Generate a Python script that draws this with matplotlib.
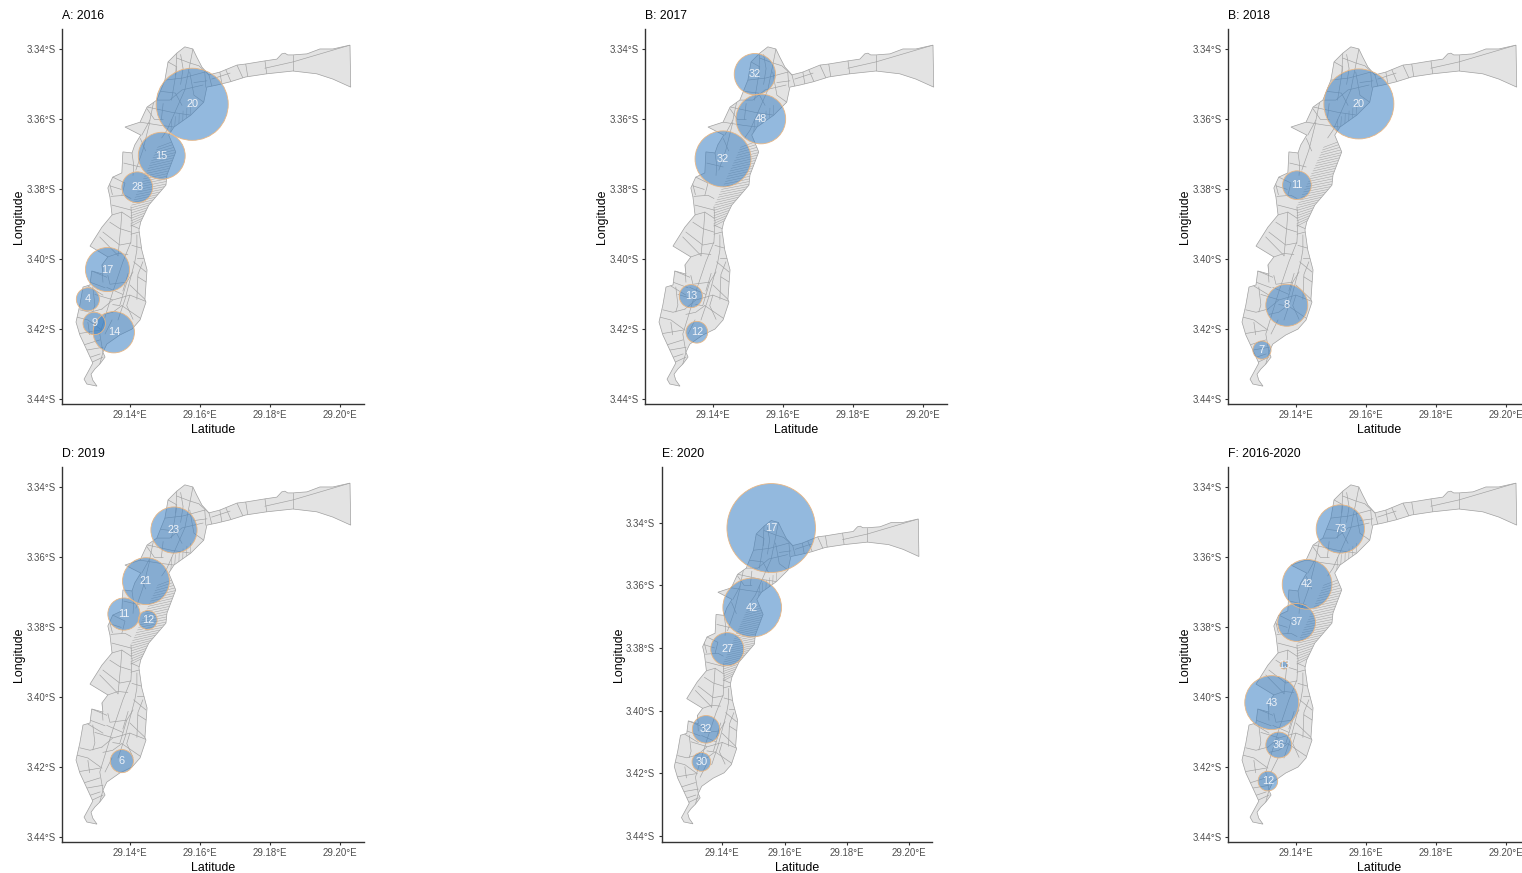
import matplotlib
matplotlib.use("Agg")
import matplotlib.pyplot as plt
from matplotlib.patches import Polygon, Circle
from matplotlib.ticker import FixedLocator, FixedFormatter

plt.rcParams['font.family'] = ['Liberation Sans', 'DejaVu Sans']

# ---------- map data (degrees east, degrees south) ----------
outline_lon = [29.1557,29.158,29.1591,29.1606,29.1626,29.1657,29.1706,29.1731,29.1786,29.182,29.1834,29.1843,29.1851,29.1866,
 29.1906,29.1943,29.198,29.2029,29.2031,29.198,29.1934,29.1866,29.1791,29.1731,29.1686,29.1649,29.162,29.1611,29.1574,29.1526,
 29.1511,29.1531,29.1506,29.1503,29.1454,29.1431,29.1426,29.1434,29.1449,29.1443,29.1446,29.1429,29.1406,29.1371,29.1334,29.1323,
 29.1329,29.1314,29.13,29.1289,29.1294,29.1306,29.1277,29.1269,29.128,29.1294,29.1277,29.1257,29.1246,29.1257,29.1266,29.1286,
 29.1291,29.1323,29.132,29.1337,29.1286,29.132,29.1349,29.1343,29.1337,29.1351,29.1377,29.138,29.1406,29.1414,29.1431,29.1386,
 29.1429,29.1449,29.1477,29.15,29.1509,29.1534]
outline_lat = [3.3393,3.3399,3.3422,3.3451,3.3473,3.3465,3.3445,3.3442,3.3433,3.3428,3.3413,3.3411,3.3416,3.3416,
 3.3413,3.3399,3.3399,3.3388,3.3508,3.3485,3.347,3.3462,3.347,3.3479,3.3493,3.3502,3.3508,3.3551,3.3588,3.3622,
 3.3645,3.3693,3.3759,3.3788,3.3845,3.3893,3.3916,3.3973,3.403,3.4114,3.4122,3.4173,3.4199,3.4216,3.4242,3.4265,
 3.4279,3.4299,3.4313,3.4328,3.4345,3.4362,3.4356,3.4342,3.4322,3.4296,3.4259,3.4216,3.4179,3.413,3.4079,3.4073,
 3.4033,3.4042,3.4016,3.3993,3.3962,3.3908,3.3873,3.3822,3.3796,3.3765,3.3753,3.3693,3.3696,3.3673,3.3645,3.3622,
 3.3608,3.3565,3.3545,3.3488,3.3436,3.3411]

parcel_lines = [
 [(29.158,3.340),(29.1557,3.3516),(29.1506,3.3631),(29.1491,3.3653)],
 [(29.1534,3.3425),(29.1571,3.3439),(29.1597,3.3447),(29.1626,3.3473)],
 [(29.15,3.3488),(29.1551,3.3482),(29.1614,3.3465)],
 [(29.1477,3.3545),(29.1514,3.3545),(29.1549,3.3516),(29.1609,3.3502)],
 [(29.1534,3.3411),(29.1531,3.3473),(29.1519,3.3545)],
 [(29.1614,3.3465),(29.1617,3.3508)],
 [(29.1571,3.3465),(29.1583,3.3531),(29.1611,3.3551)],
 [(29.1451,3.3565),(29.152,3.358),(29.1574,3.3588)],
 [(29.1429,3.3608),(29.1486,3.3617),(29.1526,3.3622)],
 [(29.1469,3.3545),(29.1457,3.3603)],
 [(29.1457,3.3603),(29.1434,3.3645)],
 [(29.1626,3.3473),(29.1634,3.3505)],
 [(29.1657,3.3465),(29.1663,3.3499)],
 [(29.1674,3.3458),(29.1689,3.3493)],
 [(29.1706,3.3445),(29.1723,3.3482)],
 [(29.1731,3.3442),(29.1737,3.3479)],
 [(29.1786,3.3433),(29.1791,3.347)],
 [(29.1866,3.3416),(29.1866,3.3462)],
 [(29.1786,3.3454),(29.1866,3.3436),(29.2029,3.3388)],
 [(29.1634,3.3485),(29.1686,3.3468)],
 [(29.1403,3.385),(29.1406,3.3893),(29.1403,3.395),(29.138,3.4007),(29.1351,3.4093),(29.1314,3.4213),(29.1323,3.4265),(29.1314,3.4299)],
 [(29.142,3.393),(29.142,3.3973),(29.1414,3.4007),(29.1386,3.4114),(29.1366,3.4173)],
 [(29.1403,3.3902),(29.1426,3.3912)],
 [(29.1383,3.3725),(29.1429,3.3736)],
 [(29.1406,3.3696),(29.1411,3.3731),(29.1409,3.376)],
 [(29.1457,3.3608),(29.1437,3.3688),(29.1417,3.3745)],
 [(29.1351,3.3765),(29.1386,3.3782),(29.1377,3.3817)],
 [(29.1346,3.382),(29.1386,3.3817),(29.1403,3.3826)],
 [(29.1349,3.3845),(29.1403,3.3859)],
 [(29.1349,3.3873),(29.1377,3.3865),(29.1403,3.3882)],
 [(29.1377,3.3865),(29.1374,3.3908),(29.1369,3.3959),(29.1366,3.399)],
 [(29.1343,3.3894),(29.1371,3.3912),(29.1403,3.3922)],
 [(29.1323,3.3922),(29.1371,3.3959),(29.1403,3.3953)],
 [(29.1314,3.3936),(29.1366,3.3989)],
 [(29.1337,3.3993),(29.1366,3.3983),(29.1394,3.3986)],
 [(29.1403,3.3928),(29.1426,3.3922)],
 [(29.1406,3.396),(29.1434,3.3968)],
 [(29.1411,3.4007),(29.1446,3.4036)],
 [(29.1437,3.4007),(29.1423,3.4043),(29.142,3.4114)],
 [(29.14,3.4073),(29.1443,3.4114)],
 [(29.1291,3.4033),(29.1334,3.4051)],
 [(29.1286,3.4065),(29.1329,3.4081)],
 [(29.128,3.4076),(29.1323,3.4102)],
 [(29.132,3.4016),(29.1323,3.4065)],
 [(29.1294,3.4079),(29.13,3.413),(29.1294,3.415)],
 [(29.1257,3.4144),(29.1286,3.4151),(29.132,3.4142)],
 [(29.1249,3.4165),(29.128,3.4173),(29.132,3.4202)],
 [(29.1249,3.4213),(29.1314,3.4202)],
 [(29.1266,3.4245),(29.1314,3.423)],
 [(29.1271,3.426),(29.1323,3.4251)],
 [(29.1291,3.4294),(29.1323,3.4279)],
 [(29.132,3.4142),(29.1351,3.4116),(29.14,3.4102),(29.1446,3.412)],
 [(29.1329,3.4213),(29.1349,3.4173)],
 [(29.1377,3.4132),(29.1434,3.4171)],
 [(29.1323,3.4157),(29.1351,3.4151),(29.1377,3.4132)],
 [(29.1351,3.4129),(29.1371,3.4132),(29.1391,3.4065),(29.1409,3.4036)],
 [(29.14,3.4102),(29.1391,3.4132),(29.1409,3.4171)],
 [(29.1334,3.408),(29.138,3.41)],
 [(29.1337,3.4046),(29.1343,3.4071),(29.1391,3.4065)],
 [(29.1509,3.3436),(29.1534,3.345),(29.1531,3.3473)],
 [(29.1488,3.3520),(29.1530,3.3525),(29.1549,3.3560)],
 [(29.1545,3.3415),(29.1552,3.3455),(29.1545,3.3500)],
 [(29.1583,3.3495),(29.1620,3.3490)],
 [(29.1449,3.3570),(29.1470,3.3600),(29.1495,3.3600)],
 [(29.1495,3.3555),(29.1490,3.3600)],
 [(29.1445,3.3690),(29.1430,3.3655)],
 [(29.1343,3.3790),(29.1375,3.3800)],
 [(29.1300,3.4100),(29.1350,3.4115)],
 [(29.1340,3.3775),(29.1350,3.3815)],
 [(29.1420,3.3995),(29.1445,3.3995)],
 [(29.1423,3.4050),(29.1447,3.4065)],
 [(29.1395,3.4040),(29.1380,3.4090)],
 [(29.1280,3.4180),(29.1285,3.4215)],
 [(29.1285,3.4280),(29.1315,3.4270)],
]

hatch_road_lon = [29.1479,29.1476,29.1472,29.1469,29.1466,29.1462,29.1459,29.1456,29.1452,29.1449,29.1445,29.1442,29.1439,29.1436,29.1432,29.1429,
 29.1425,29.1422,29.1418,29.1415,29.1412,29.1408,29.1405,29.1404,29.1403,29.1403,29.1403,29.1403,29.1403,29.1403,29.1403]
hatch_road_lat = [3.368,3.36875,3.3695,3.37025,3.371,3.37175,3.3725,3.37325,3.374,3.37475,3.3755,3.37625,3.377,3.37775,3.3785,3.37925,
 3.380,3.38075,3.3815,3.38225,3.383,3.38375,3.3845,3.38525,3.386,3.38675,3.3875,3.38825,3.389,3.38975,3.3905]
hatch_coast_lon = [29.1519,29.1522,29.1526,29.1528,29.153,29.1527,29.1524,29.1521,29.1519,29.1516,29.1513,29.151,29.1507,29.1506,29.1505,29.1504,
 29.1503,29.1498,29.1493,29.1487,29.148,29.1473,29.1467,29.1460,29.1454,29.1450,29.1447,29.1443,29.144,29.1436,29.1432]
hatch_coast_lat = [3.3665,3.36725,3.368,3.36875,3.3695,3.37025,3.371,3.37175,3.3725,3.37325,3.374,3.37475,3.3755,3.37625,3.377,3.37775,
 3.3785,3.37925,3.380,3.38075,3.3815,3.38225,3.383,3.38375,3.3845,3.38525,3.386,3.38675,3.3875,3.38825,3.389]

north_hatch_a_lon = [29.1520,29.1530,29.1541,29.1552,29.1563,29.1574]
north_hatch_a_lat = [3.3600,3.3592,3.3584,3.3576,3.3568,3.3560]
north_hatch_b_lon = [29.1517,29.1528,29.1540,29.1551,29.1562,29.1573]
north_hatch_b_lat = [3.3635,3.3625,3.3615,3.3605,3.3595,3.3585]

# ---------- clusters per panel ----------
titles = ['A: 2016', 'B: 2017', 'B: 2018', 'D: 2019', 'E: 2020', 'F: 2016-2020']

a_lon = [29.1578,29.1491,29.1421,29.1336,29.128,29.1298,29.1354]
a_lat = [3.3557,3.3704,3.3794,3.4029,3.4114,3.4183,3.4208]
a_rad = [.0103,.0067,.0044,.0063,.0033,.0032,.0059]
a_lab = [20,15,28,17,4,9,14]

b_lon = [29.152,29.1537,29.1429,29.1337,29.1354]
b_lat = [3.3471,3.3599,3.3713,3.4105,3.4208]
b_rad = [.0059,.0071,.008,.0033,.0031]
b_lab = [32,48,32,13,12]

c_lon = [29.158,29.1403,29.1374,29.1303]
c_lat = [3.3556,3.3788,3.4131,3.4259]
c_rad = [.01,.0041,.006,.0026]
c_lab = [20,11,8,7]

d_lon = [29.1526,29.1446,29.1383,29.1451,29.1377]
d_lat = [3.3522,3.3668,3.3762,3.3779,3.4182]
d_rad = [.0066,.0067,.0046,.0027,.0033]
d_lab = [23,21,11,12,6]

e_lon = [29.1557,29.1496,29.1416,29.1348,29.1333]
e_lat = [3.3417,3.3671,3.3804,3.406,3.4164]
e_rad = [.0142,.0094,.0053,.0044,.003]
e_lab = [17,42,27,32,30]

f_lon = [29.1527,29.1432,29.1402,29.1366,29.1331,29.1351,29.132]
f_lat = [3.3519,3.3677,3.3786,3.3908,3.4015,3.4136,3.4239]
f_rad = [.0069,.0071,.0054,.0011,.0077,.0037,.0028]
f_lab = [73,42,37,13,43,36,12]

lon_ticks = [29.14, 29.16, 29.18, 29.20]
lon_labels = ['29.14°E', '29.16°E', '29.18°E', '29.20°E']
lat_ticks = [3.34, 3.36, 3.38, 3.40, 3.42, 3.44]
lat_labels = ['3.34°S', '3.36°S', '3.38°S', '3.40°S', '3.42°S', '3.44°S']

W, H = 1522, 873
fig = plt.figure(figsize=(W/100, H/100), dpi=100, facecolor='white')

LINE = '#a0a0a0'
FILL = '#e3e3e3'
BUB = '#3b80c3'
EDGE = '#e8b684'

def panel(box, xlim, ylim, title, lon, lat, rad, lab):
    l, t, r, b = box
    ax = fig.add_axes([l/W, 1-b/H, (r-l)/W, (b-t)/H])
    ax.set_xlim(*xlim)
    ax.set_ylim(*ylim)
    land = Polygon(list(zip(outline_lon, outline_lat)), closed=True, fc=FILL, ec=LINE, lw=0.5, zorder=1)
    ax.add_patch(land)
    for line in parcel_lines:
        art, = ax.plot([p[0] for p in line], [p[1] for p in line], color=LINE, lw=0.45, zorder=2)
        art.set_clip_path(land)
    for x0, y0, x1, y1 in zip(hatch_road_lon, hatch_road_lat, hatch_coast_lon, hatch_coast_lat):
        art, = ax.plot([x0, x1], [y0, y1], color=LINE, lw=0.35, zorder=2)
        art.set_clip_path(land)
    for x0, y0, x1, y1 in zip(north_hatch_a_lon, north_hatch_a_lat, north_hatch_b_lon, north_hatch_b_lat):
        art, = ax.plot([x0, x1], [y0, y1], color=LINE, lw=0.35, zorder=2)
        art.set_clip_path(land)
    for x, y, rr, s in zip(lon, lat, rad, lab):
        ax.add_patch(Circle((x, y), rr, fc=BUB, ec='none', alpha=0.55, zorder=3))
        ax.add_patch(Circle((x, y), rr, fc='none', ec=EDGE, lw=0.6, zorder=4))
        ax.text(x, y, str(s), color='#eef2f8', fontsize=7.9, ha='center', va='center', zorder=5)
    for side in ('top', 'right'):
        ax.spines[side].set_visible(False)
    for side in ('left', 'bottom'):
        ax.spines[side].set_linewidth(1.0)
        ax.spines[side].set_color('#333333')
    ax.xaxis.set_major_locator(FixedLocator(lon_ticks))
    ax.xaxis.set_major_formatter(FixedFormatter(lon_labels))
    ax.yaxis.set_major_locator(FixedLocator(lat_ticks))
    ax.yaxis.set_major_formatter(FixedFormatter(lat_labels))
    ax.tick_params(axis='both', length=2.5, width=0.8, color='#333333', labelcolor='#4d4d4d', labelsize=6.9, pad=2)
    ax.set_xlabel('Latitude', fontsize=8.9, color='black', labelpad=2.6)
    ax.set_ylabel('Longitude', fontsize=8.9, color='black', labelpad=1)
    ax.set_title(title, fontsize=8.8, loc='left', color='black', pad=7.2)

def std_box(col, row):
    ox = [0, 583, 1166][col]
    oy = [0, 438][row]
    return (62+ox, 29+oy, 364+ox, 404+oy)

std_x = (29.1206, 29.2069)
std_y = (3.4413, 3.3342)

panel(std_box(0, 0), std_x, std_y, titles[0], a_lon, a_lat, a_rad, a_lab)
panel(std_box(1, 0), std_x, std_y, titles[1], b_lon, b_lat, b_rad, b_lab)
panel(std_box(2, 0), std_x, std_y, titles[2], c_lon, c_lat, c_rad, c_lab)
panel(std_box(0, 1), std_x, std_y, titles[3], d_lon, d_lat, d_rad, d_lab)
panel((661.5, 467, 932, 842), (29.1205, 29.2073), (3.442, 3.3222), titles[4], e_lon, e_lat, e_rad, e_lab)
panel(std_box(2, 1), std_x, std_y, titles[5], f_lon, f_lat, f_rad, f_lab)

fig.savefig('out.png', dpi=100, facecolor='white')
